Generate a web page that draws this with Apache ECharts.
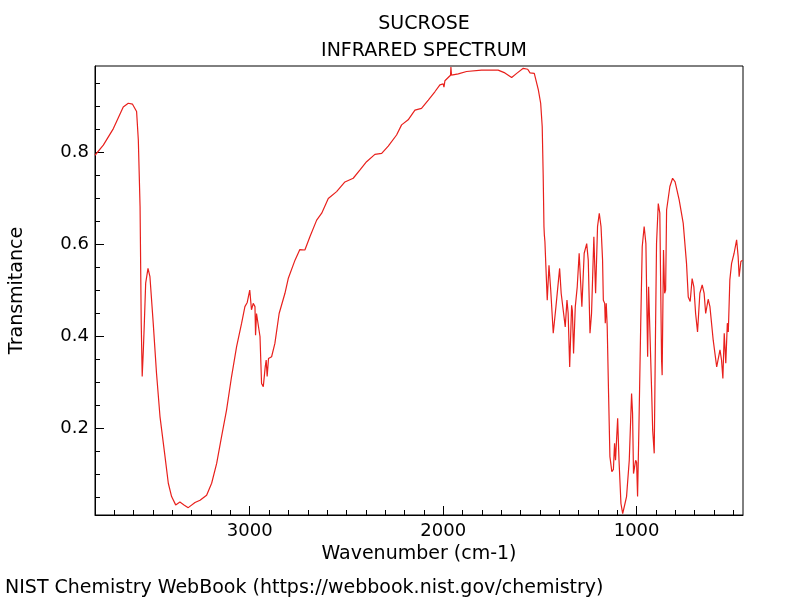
<!DOCTYPE html>
<html>
<head>
<meta charset="utf-8">
<script src="https://cdn.jsdelivr.net/npm/echarts@6/dist/echarts.min.js"></script>
<style>
  html, body { margin: 0; padding: 0; background: #fff; }
  #container { width: 800px; height: 600px; }
</style>
</head>
<body>
<div id="container"></div>
<script>
// wavenumber (cm-1), high to low
var wavenumbers = [
  3800, 3757, 3705, 3654, 3628, 3606, 3585, 3576, 3567, 3561, 3556, 3550, 3545, 3538, 3526, 3516,
  3499, 3482, 3464, 3438, 3421, 3404, 3383, 3361, 3340, 3318, 3283, 3257, 3223, 3197, 3171, 3146,
  3120, 3094, 3068, 3042, 3025, 3013, 3000, 2991, 2982, 2973, 2970, 2965, 2956, 2947, 2939, 2930,
  2920, 2915, 2910, 2903, 2887, 2870, 2848, 2818, 2801, 2766, 2741, 2715, 2689, 2654, 2628, 2594,
  2551, 2508, 2465, 2430, 2396, 2353, 2318, 2284, 2241, 2215, 2181, 2146, 2112, 2077, 2043, 2017,
  2000, 1996, 1991, 1974, 1962, 1960, 1957, 1922, 1879, 1802, 1716, 1681, 1646, 1620, 1586, 1563,
  1551, 1529, 1508, 1496, 1488, 1483, 1479, 1477, 1474, 1469, 1462, 1453, 1444, 1431, 1417, 1410,
  1398, 1390, 1380, 1369, 1360, 1354, 1346, 1336, 1332, 1326, 1317, 1307, 1297, 1283, 1271, 1258,
  1250, 1241, 1233, 1221, 1212, 1202, 1193, 1184, 1176, 1172, 1165, 1162, 1157, 1152, 1145, 1138,
  1128, 1120, 1114, 1109, 1098, 1091, 1081, 1072, 1060, 1052, 1038, 1026, 1021, 1016, 1011, 1005,
  1000, 995, 988, 979, 971, 961, 952, 943, 938, 933, 922, 917, 912, 909, 902, 897,
  888, 880, 871, 868, 861, 855, 850, 845, 828, 814, 801, 780, 759, 742, 733, 723,
  713, 704, 695, 685, 673, 661, 651, 643, 630, 621, 604, 586, 569, 561, 554, 547,
  539, 531, 526, 518, 509, 496, 483, 475, 470, 461, 452
];
var transmittance = [
  0.793, 0.815, 0.851, 0.898, 0.906, 0.904, 0.888, 0.826, 0.681, 0.428, 0.312, 0.370, 0.428, 0.515, 0.547, 0.529,
  0.428, 0.319, 0.225, 0.138, 0.080, 0.051, 0.033, 0.039, 0.033, 0.027, 0.038, 0.043, 0.054, 0.080, 0.123, 0.181,
  0.239, 0.312, 0.377, 0.428, 0.464, 0.473, 0.500, 0.457, 0.471, 0.464, 0.402, 0.449, 0.449, 0.399, 0.297, 0.290,
  0.333, 0.348, 0.312, 0.351, 0.355, 0.384, 0.449, 0.493, 0.525, 0.565, 0.588, 0.587, 0.616, 0.652, 0.667, 0.699,
  0.714, 0.735, 0.743, 0.761, 0.779, 0.795, 0.797, 0.813, 0.837, 0.859, 0.870, 0.891, 0.895, 0.913, 0.931, 0.946,
  0.948, 0.941, 0.955, 0.962, 0.967, 0.985, 0.967, 0.970, 0.975, 0.978, 0.978, 0.972, 0.962, 0.971, 0.982, 0.980,
  0.972, 0.971, 0.935, 0.906, 0.855, 0.750, 0.638, 0.620, 0.605, 0.551, 0.478, 0.554, 0.500, 0.406, 0.464, 0.460,
  0.547, 0.493, 0.493, 0.420, 0.478, 0.450, 0.333, 0.467, 0.455, 0.362, 0.464, 0.507, 0.580, 0.464, 0.580, 0.601,
  0.565, 0.406, 0.449, 0.616, 0.493, 0.638, 0.667, 0.638, 0.565, 0.478, 0.471, 0.428, 0.471, 0.420, 0.275, 0.138,
  0.105, 0.110, 0.167, 0.130, 0.221, 0.130, 0.036, 0.014, 0.036, 0.051, 0.130, 0.275, 0.232, 0.101, 0.100, 0.130,
  0.125, 0.051, 0.203, 0.420, 0.594, 0.638, 0.601, 0.355, 0.507, 0.507, 0.275, 0.196, 0.200, 0.145, 0.420, 0.601,
  0.688, 0.667, 0.348, 0.315, 0.587, 0.493, 0.500, 0.674, 0.725, 0.743, 0.735, 0.696, 0.645, 0.558, 0.485, 0.475,
  0.525, 0.507, 0.449, 0.409, 0.493, 0.511, 0.493, 0.449, 0.480, 0.464, 0.391, 0.333, 0.370, 0.348, 0.308, 0.406,
  0.341, 0.428, 0.409, 0.522, 0.558, 0.580, 0.609, 0.572, 0.529, 0.562, 0.565
];

// ticks
var xMajorTicks = [1000, 2000, 3000];
var xMinorTicks = [500, 600, 700, 800, 900, 1100, 1200, 1300, 1400, 1500, 1600, 1700, 1800, 1900,
  2100, 2200, 2300, 2400, 2500, 2600, 2700, 2800, 2900, 3100, 3200, 3300, 3400, 3500, 3600, 3700];
var yMajorTicks = [0.2, 0.4, 0.6, 0.8];
var yMinorTicks = [0.05, 0.1, 0.15, 0.25, 0.3, 0.35, 0.45, 0.5, 0.55, 0.65, 0.7, 0.75, 0.85, 0.9, 0.95];

var points = [];
for (var i = 0; i < wavenumbers.length; i++) {
  points.push([wavenumbers[i], transmittance[i]]);
}

var font = 'DejaVu Sans';
var dom = document.getElementById('container');
var myChart = echarts.init(dom, null, { renderer: 'canvas' });

var option = {
  backgroundColor: '#ffffff',
  animation: false,
  textStyle: { fontFamily: font },
  title: [
    {
      text: 'SUCROSE',
      left: 419, top: 10, textAlign: 'center',
      textStyle: { fontFamily: font, fontSize: 19, fontWeight: 'normal', color: '#000' }
    },
    {
      text: 'INFRARED SPECTRUM',
      left: 419, top: 37, textAlign: 'center',
      textStyle: { fontFamily: font, fontSize: 19, fontWeight: 'normal', color: '#000' }
    }
  ],
  grid: {
    left: 95, right: 57, top: 66, bottom: 85,
    show: true, borderColor: '#000', borderWidth: 1, backgroundColor: 'transparent'
  },
  xAxis: [
    {
      type: 'value', inverse: true, min: 450, max: 3800, position: 'bottom',
      name: 'Wavenumber (cm-1)', nameLocation: 'middle', nameGap: 28,
      nameTextStyle: { fontFamily: font, fontSize: 19, color: '#000' },
      axisLine: { show: true, lineStyle: { color: '#000', width: 1 } },
      axisTick: { show: true, inside: true, length: 9, customValues: xMajorTicks, lineStyle: { color: '#000' } },
      axisLabel: {
        show: true, customValues: xMajorTicks, margin: 7, fontFamily: font, fontSize: 18, color: '#000',
        formatter: function (v) { return String(v); }
      },
      splitLine: { show: false }
    },
    {
      type: 'value', inverse: true, min: 450, max: 3800, position: 'bottom',
      axisLine: { show: false },
      axisTick: { show: true, inside: true, length: 5, customValues: xMinorTicks, lineStyle: { color: '#000' } },
      axisLabel: { show: false },
      splitLine: { show: false }
    }
  ],
  yAxis: [
    {
      type: 'value', min: 0.011, max: 0.987, position: 'left',
      name: 'Transmitance', nameLocation: 'middle', nameGap: 68,
      nameTextStyle: { fontFamily: font, fontSize: 19, color: '#000' },
      axisLine: { show: true, lineStyle: { color: '#000', width: 1 } },
      axisTick: { show: true, inside: true, length: 9, customValues: yMajorTicks, lineStyle: { color: '#000' } },
      axisLabel: {
        show: true, customValues: yMajorTicks, margin: 6, fontFamily: font, fontSize: 18, color: '#000',
        formatter: function (v) { return v.toFixed(1); }
      },
      splitLine: { show: false }
    },
    {
      type: 'value', min: 0.011, max: 0.987, position: 'left',
      axisLine: { show: false },
      axisTick: { show: true, inside: true, length: 5, customValues: yMinorTicks, lineStyle: { color: '#000' } },
      axisLabel: { show: false },
      splitLine: { show: false }
    }
  ],
  graphic: [
    {
      type: 'text', left: 5, top: 579,
      style: { text: 'NIST Chemistry WebBook (https://webbook.nist.gov/chemistry)', font: '19px "DejaVu Sans"', fill: '#000' }
    }
  ],
  series: [
    {
      type: 'line',
      xAxisIndex: 0, yAxisIndex: 0,
      data: points,
      showSymbol: false,
      smooth: false,
      lineStyle: { color: '#e8201c', width: 1.2 },
      clip: true
    }
  ]
};

if (option && typeof option === 'object') {
  myChart.setOption(option, true);
}
</script>
</body>
</html>
